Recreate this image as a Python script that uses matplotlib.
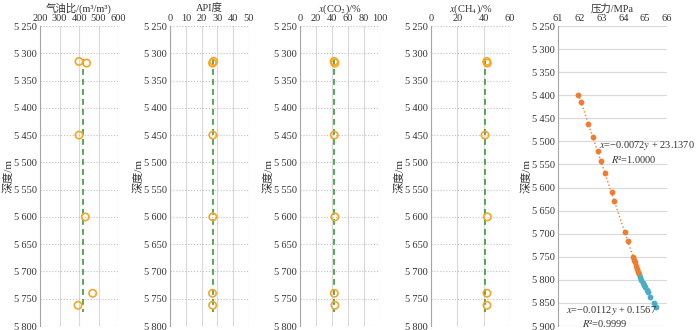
import numpy as np
import matplotlib
matplotlib.use('Agg')
import matplotlib.pyplot as plt

plt.rcParams['font.family'] = ['Liberation Serif', 'Noto Sans CJK SC', 'DejaVu Sans']
plt.rcParams['mathtext.fontset'] = 'stix'
plt.rcParams['font.size'] = 7.5

# sample depths (m) for the four fluid property panels
depth = [5315, 5318, 5450, 5600, 5740, 5762]
gor = [400, 439, 400, 432, 470, 395]
api = [27.6, 26.9, 27.1, 27.1, 26.9, 27.0]
co2 = [42.6, 43.6, 42.8, 43.6, 42.9, 43.6]
ch4 = [42.3, 42.8, 41.0, 42.8, 42.5, 42.5]
mean_line = [422, 27.0, 42.5, 40.8]

# pressure profile
depth_a = [5400, 5414, 5462, 5490, 5520, 5542, 5569, 5610, 5629, 5697, 5716,
           5751, 5757, 5762, 5770, 5777, 5782, 5788]
press_a = [61.93, 62.06, 62.39, 62.59, 62.82, 62.96, 63.14, 63.46, 63.58, 64.09,
           64.21, 64.44, 64.49, 64.53, 64.58, 64.63, 64.67, 64.71]
depth_b = [5794, 5800, 5806, 5811, 5816, 5822, 5827, 5837, 5850, 5858]
press_b = [64.76, 64.82, 64.88, 64.94, 65.00, 65.07, 65.11, 65.22, 65.40, 65.50]

titles = ['气油比/(m³/m³)', 'API度', r'$x$(CO$_2$)/%', r'$x$(CH$_4$)/%']
xlims = [(200, 600), (0, 50), (0, 100), (0, 60)]
xticks = [np.arange(200, 601, 100), np.arange(0, 51, 10), np.arange(0, 101, 20), np.arange(0, 61, 20)]
values = [gor, api, co2, ch4]
lefts = [40, 170, 300, 431]
widths = [78, 79, 80, 79]

W, H = 700, 330
fig = plt.figure(figsize=(7, 3.3), dpi=100)
txt = '#333333'


def fmt(v):
    return f'{v // 1000}\u2009{v % 1000:03d}'


def style(ax, ymax, dotted):
    ax.xaxis.tick_top()
    ax.xaxis.set_label_position('top')
    ax.tick_params(length=0, pad=2, labelsize=7.5, colors=txt)
    ax.set_ylim(ymax, 5250)
    yt = np.arange(5250, ymax + 1, 50)
    ax.set_yticks(yt)
    ax.set_yticklabels([fmt(v) for v in yt])
    for s in ['top', 'right', 'bottom']:
        ax.spines[s].set_visible(False)
    ax.spines['left'].set_color('#a6a6a6')
    ax.set_ylabel('深度/m', fontsize=8, color=txt, labelpad=0.5)
    if dotted:
        ax.grid(axis='y', color='#c9bcbc', linestyle=':', linewidth=0.8)
    else:
        ax.grid(axis='y', color='#d9d9d9', linewidth=0.8)
    ax.set_axisbelow(True)


for i in range(4):
    ax = fig.add_axes([lefts[i] / W, 1 - 326 / H, widths[i] / W, 300 / H])
    style(ax, 5800, True)
    ax.set_xlim(*xlims[i])
    ax.set_xticks(xticks[i])
    ax.grid(axis='x', color='#d9d9d9', linewidth=0.8)
    ax.set_xlabel(titles[i], fontsize=7.5, color=txt, labelpad=2)
    ax.plot([mean_line[i], mean_line[i]], [5310, 5775], color='#3a9a3a',
            linestyle=(0, (3.5, 2.5)), linewidth=1.2, zorder=2)
    ax.scatter(values[i], depth, s=28, facecolors='none', edgecolors='#f5a623',
               linewidths=1.2, zorder=3)

# pressure panel
ax = fig.add_axes([558 / W, 1 - 326 / H, 109 / W, 300 / H])
style(ax, 5900, False)
ax.set_xlim(61, 66)
ax.set_xticks(np.arange(61, 67, 1))
ax.set_xlabel('压力/MPa', fontsize=7.5, color=txt, labelpad=2)

for d, p, c in [(depth_a, press_a, '#ed7d31'), (depth_b, press_b, '#4bacc6')]:
    d = np.array(d)
    p = np.array(p)
    coef = np.polyfit(d, p, 1)
    yy = np.linspace(d.min() - 3, d.max() + 6, 50)
    ax.plot(np.polyval(coef, yy), yy, color=c, linestyle=':', linewidth=1.0, zorder=2)
    ax.scatter(p, d, s=10, color=c, zorder=3)

ax.text(62.88, 5508, r'$x$=−0.0072$y$ + 23.1370', fontsize=7.5, color=txt, va='center')
ax.text(63.45, 5540, r'$R$²=1.0000', fontsize=7.5, color=txt, va='center')
ax.text(61.35, 5867, r'$x$=−0.0112$y$ + 0.1567', fontsize=7.5, color=txt, va='center')
ax.text(62.1, 5895, r'$R$²=0.9999', fontsize=7.5, color=txt, va='center')

plt.savefig('out.png', dpi=100)
plt.close()
